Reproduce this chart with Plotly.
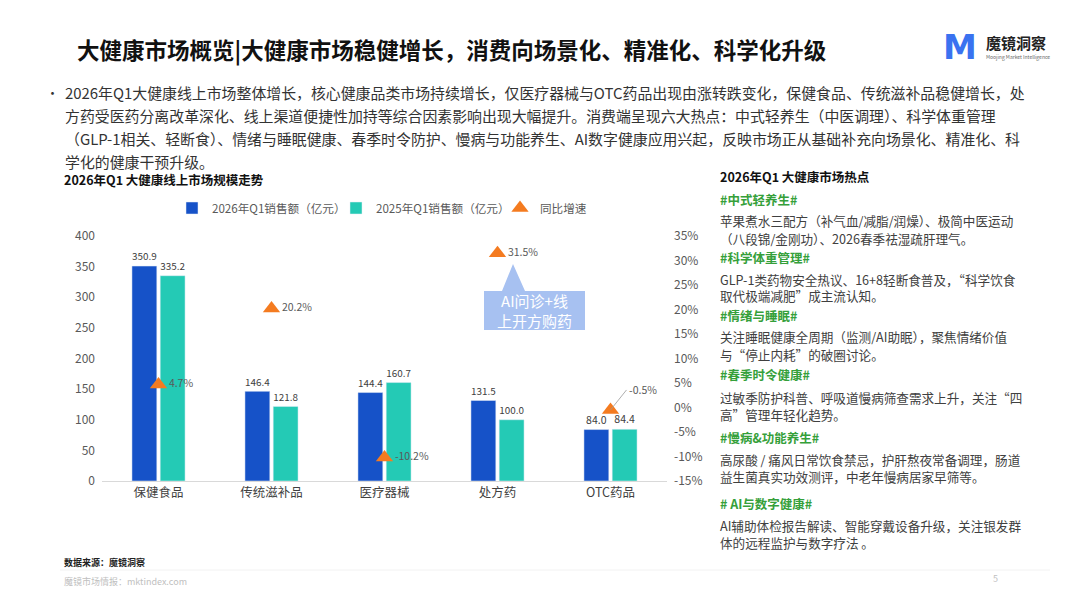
import plotly.graph_objects as go

W, H = 1080, 608
FONT = "Noto Sans CJK SC"
OFFSET = 8  # 页面 body 默认边距

# 图表数据
categories = ["保健食品", "传统滋补品", "医疗器械", "处方药", "OTC药品"]
sales_2026 = [350.9, 146.4, 144.4, 131.5, 84.0]
sales_2025 = [335.2, 121.8, 160.7, 100.0, 84.4]
yoy_growth = [4.7, 20.2, -10.2, 31.5, -0.5]

left_ticks = [0, 50, 100, 150, 200, 250, 300, 350, 400]
right_ticks = [-15, -10, -5, 0, 5, 10, 15, 20, 25, 30, 35]

title = "大健康市场概览|大健康市场稳健增长，消费向场景化、精准化、科学化升级"
summary_lines = [
    "2026年Q1大健康线上市场整体增长，核心健康品类市场持续增长，仅医疗器械与OTC药品出现由涨转跌变化，保健食品、传统滋补品稳健增长，处",
    "方药受医药分离改革深化、线上渠道便捷性加持等综合因素影响出现大幅提升。消费端呈现六大热点：中式轻养生（中医调理）、科学体重管理",
    "（GLP-1相关、轻断食）、情绪与睡眠健康、春季时令防护、慢病与功能养生、AI数字健康应用兴起，反映市场正从基础补充向场景化、精准化、科",
    "学化的健康干预升级。",
]

hot_tags = ["#中式轻养生#", "#科学体重管理#", "#情绪与睡眠#", "#春季时令健康#", "#慢病&功能养生#", "# AI与数字健康#"]
hot_texts = [
    ["苹果煮水三配方（补气血/减脂/润燥）、极简中医运动", "（八段锦/金刚功）、2026春季祛湿疏肝理气。"],
    ["GLP-1类药物安全热议、16+8轻断食普及，“科学饮食", "取代极端减肥”成主流认知。"],
    ["关注睡眠健康全周期（监测/AI助眠），聚焦情绪价值", "与“停止内耗”的破圈讨论。"],
    ["过敏季防护科普、呼吸道慢病筛查需求上升，关注“四", "高”管理年轻化趋势。"],
    ["高尿酸 / 痛风日常饮食禁忌，护肝熬夜常备调理，肠道", "益生菌真实功效测评，中老年慢病居家早筛等。"],
    ["AI辅助体检报告解读、智能穿戴设备升级，关注银发群", "体的远程监护与数字疗法 。"],
]

BLUE = "#1652C8"
TEAL = "#24CAB5"
ORANGE = "#F47B20"
GREEN = "#35A03A"


def px(x):
    return (x - OFFSET) / W


def py(y):
    return 1 - (y - OFFSET) / H


fig = go.Figure()

fig.add_trace(go.Bar(
    x=categories, y=sales_2026, name="2026年Q1销售额（亿元）",
    marker_color=BLUE, texttemplate="%{y:.1f}", textposition="outside",
    textfont=dict(size=10.5, color="#404040"), cliponaxis=False,
))
fig.add_trace(go.Bar(
    x=categories, y=sales_2025, name="2025年Q1销售额（亿元）",
    marker_color=TEAL, texttemplate="%{y:.1f}", textposition="outside",
    textfont=dict(size=10.5, color="#404040"), cliponaxis=False,
))
fig.add_trace(go.Scatter(
    x=categories, y=yoy_growth, name="同比增速", yaxis="y2", mode="markers+text",
    marker=dict(symbol="triangle-up", size=15, color=ORANGE),
    text=[f"{v:.1f}%" if i < len(yoy_growth) - 1 else "" for i, v in enumerate(yoy_growth)],
    textposition="middle right", textfont=dict(size=10.5, color="#595959"),
    cliponaxis=False,
))

ann = []
# -0.5% 引线标签
ann.append(dict(
    x=categories[-1], y=yoy_growth[-1], xref="x", yref="y2",
    text=f"{yoy_growth[-1]:.1f}%", showarrow=True, arrowhead=0, arrowwidth=0.8,
    arrowcolor="#999999", ax=16, ay=-20, xanchor="left",
    font=dict(size=10.5, color="#595959", family=FONT),
))

# 标题
ann.append(dict(x=px(75), y=py(50), xref="paper", yref="paper", xanchor="left", yanchor="middle",
                text=f"<b>{title}</b>", showarrow=False, font=dict(size=22.5, color="#111111", family=FONT)))

# logo
ann.append(dict(x=px(960), y=py(47), xref="paper", yref="paper", xanchor="center", yanchor="middle",
                text="<b>M</b>", showarrow=False, font=dict(size=34, color="#3A72F0", family="DejaVu Sans")))
ann.append(dict(x=px(984), y=py(43), xref="paper", yref="paper", xanchor="left", yanchor="middle",
                text="<b>魔镜洞察</b>", showarrow=False, font=dict(size=15, color="#222222", family=FONT)))
ann.append(dict(x=px(984), y=py(57), xref="paper", yref="paper", xanchor="left", yanchor="middle",
                text="Moojing Market Intelligence", showarrow=False, font=dict(size=5, color="#666666", family=FONT)))

# 摘要段落
ann.append(dict(x=px(44), y=py(92), xref="paper", yref="paper", xanchor="left", yanchor="middle",
                text="•", showarrow=False, font=dict(size=13, color="#333333", family=FONT)))
for i, line in enumerate(summary_lines):
    ann.append(dict(x=px(63), y=py(92 + i * 23.3), xref="paper", yref="paper", xanchor="left", yanchor="middle",
                    text=line, showarrow=False, font=dict(size=14.9, color="#333333", family=FONT)))

# 图表标题
ann.append(dict(x=px(62), y=py(179), xref="paper", yref="paper", xanchor="left", yanchor="middle",
                text="<b>2026年Q1 大健康线上市场规模走势</b>", showarrow=False,
                font=dict(size=12.5, color="#111111", family=FONT)))

# 右侧热点
ann.append(dict(x=px(718), y=py(176), xref="paper", yref="paper", xanchor="left", yanchor="middle",
                text="<b>2026年Q1 大健康市场热点</b>", showarrow=False,
                font=dict(size=12.5, color="#111111", family=FONT)))
tag_y = [199, 257, 315, 375, 437, 503]
for tag, lines, ty in zip(hot_tags, hot_texts, tag_y):
    ann.append(dict(x=px(718), y=py(ty), xref="paper", yref="paper", xanchor="left", yanchor="middle",
                    text=f"<b>{tag}</b>", showarrow=False, font=dict(size=12.5, color=GREEN, family=FONT)))
    for j, line in enumerate(lines):
        ann.append(dict(x=px(718), y=py(ty + 22 + j * 17), xref="paper", yref="paper", xanchor="left",
                        yanchor="middle", text=line, showarrow=False,
                        font=dict(size=12.6, color="#404040", family=FONT)))

# AI 标注框
ann.append(dict(x=px(534), y=py(310), xref="paper", yref="paper", xanchor="center", yanchor="middle",
                text="AI问诊+线<br>上开方购药", showarrow=False, align="center",
                font=dict(size=15, color="#ffffff", family=FONT)))

# 底部
ann.append(dict(x=px(62), y=py(562), xref="paper", yref="paper", xanchor="left", yanchor="middle",
                text="<b>数据来源：魔镜洞察</b>", showarrow=False, font=dict(size=9, color="#222222", family=FONT)))
ann.append(dict(x=px(62), y=py(581), xref="paper", yref="paper", xanchor="left", yanchor="middle",
                text="魔镜市场情报：mktindex.com", showarrow=False, font=dict(size=9, color="#c0c0c0", family=FONT)))
ann.append(dict(x=px(995), y=py(578), xref="paper", yref="paper", xanchor="center", yanchor="middle",
                text="5", showarrow=False, font=dict(size=9, color="#c0c0c0", family=FONT)))

shapes = [
    dict(type="path", xref="paper", yref="paper", layer="below",
         path=f"M {px(484)} {py(291)} L {px(502)} {py(291)} L {px(513)} {py(264)} L {px(525)} {py(291)} "
              f"L {px(585)} {py(291)} L {px(585)} {py(330)} L {px(484)} {py(330)} Z",
         fillcolor="#A7C1F1", line=dict(width=0)),
    dict(type="line", xref="paper", yref="paper", x0=px(60), x1=px(1050), y0=py(570), y1=py(570),
         line=dict(color="#f2f2f2", width=1)),
]

fig.update_layout(
    width=W, height=H,
    margin=dict(l=0, r=0, t=0, b=0, autoexpand=False),
    paper_bgcolor="white", plot_bgcolor="white",
    font=dict(family=FONT, color="#404040"),
    barmode="group", bargap=0.5, bargroupgap=0.12,
    showlegend=True,
    legend=dict(orientation="h", x=px(172), y=py(208), xanchor="left", yanchor="middle",
                font=dict(size=11.6, color="#595959", family=FONT), bgcolor="rgba(0,0,0,0)",
                itemwidth=30, tracegroupgap=0, entrywidth=119, entrywidthmode="pixels"),
    xaxis=dict(domain=[px(102), px(667)], showline=True, linecolor="#d9d9d9", linewidth=1,
               ticks="", tickfont=dict(size=12.5, color="#404040"), showgrid=False, automargin=False),
    yaxis=dict(domain=[py(481), py(236)], range=[0, 400], tickvals=left_ticks, showgrid=False,
               zeroline=False, showline=False, tickfont=dict(size=12, color="#595959"),
               ticklabelstandoff=6, automargin=False),
    yaxis2=dict(overlaying="y", side="right", range=[-15, 35], tickvals=right_ticks,
                ticktext=[f"{t}%" for t in right_ticks], showgrid=False, zeroline=False,
                showline=False, tickfont=dict(size=12, color="#595959"), ticklabelstandoff=6,
                automargin=False),
    annotations=ann,
    shapes=shapes,
)

fig.write_html("out.html")
